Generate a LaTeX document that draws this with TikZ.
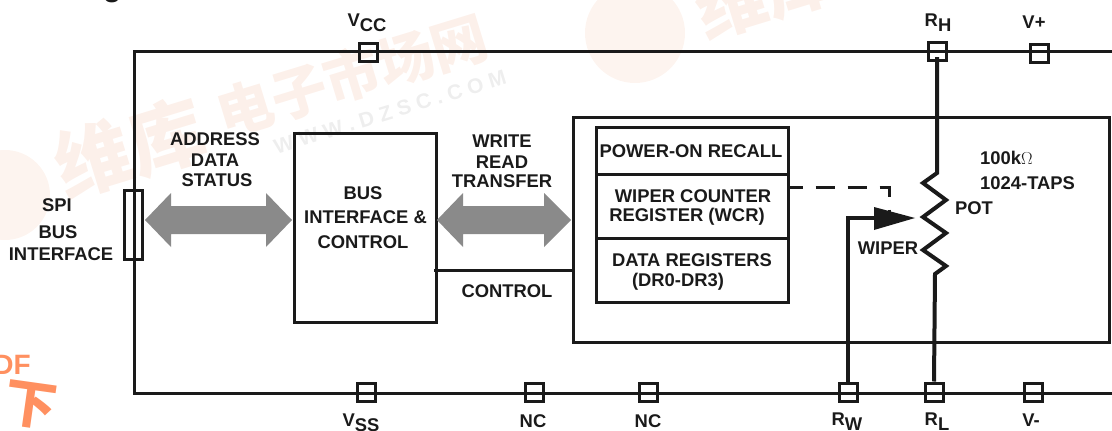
\documentclass[tikz,border=0pt]{standalone}
\usepackage{fontspec}
\setmainfont{Liberation Sans}
\newfontfamily\cjk{Noto Sans CJK SC}
\definecolor{ink}{HTML}{1A1A1A}
\definecolor{arrowgray}{HTML}{8A8A8A}
\definecolor{wmpink}{HTML}{FCF0EA}
\definecolor{wmpale}{HTML}{FDF4EF}
\definecolor{wmgray}{HTML}{EEEEEE}
\definecolor{logoorange}{HTML}{FF9060}
\newcommand{\dropsub}[1]{\raisebox{-5pt}{#1}}
\tikzset{
  lab/.style={font=\fontsize{18.4}{20}\selectfont\bfseries, text=ink, inner sep=0pt, align=center},
  wire/.style={draw=ink, line width=3pt},
  thin box/.style={draw=ink, line width=3pt, fill=none, inner sep=0pt},
  pin/.style={draw=ink, line width=3pt, fill=none, minimum width=18pt, minimum height=18pt, inner sep=0pt},
  pot/.style={draw=ink, line width=4pt, line join=miter},
  bus/.style={fill=arrowgray, draw=none},
  wm/.style={text=wmpink, font=\cjk\fontsize{56}{56}\selectfont\bfseries, rotate=17, inner sep=0pt},
}
\begin{document}
\begin{tikzpicture}[x=1pt,y=-1pt]
\useasboundingbox (0,0) rectangle (1112,431);
% watermarks
\node[wm, font=\cjk\fontsize{76}{76}\selectfont\bfseries] (w1) at (130,148) {维库};
\node[wm] (w2) at (352,75) {电子市场网};
\node[circle, fill=wmpale, minimum size=100pt, inner sep=0pt] (w0) at (635,33) {};
\node[wm, font=\cjk\fontsize{70}{70}\selectfont\bfseries] (w3) at (765,-8) {维库};
\node[circle, fill=wmpale, minimum size=90pt, inner sep=0pt] (w7) at (5,195) {};
\node[text=wmgray, font=\fontsize{21}{22}\selectfont\bfseries, rotate=17, inner sep=0pt] (w4) at (390,112) {W W W . D Z S C . C O M};
\node[text=logoorange, font=\fontsize{28}{28}\selectfont\bfseries, inner sep=0pt, anchor=east] (w5) at (31,365) {DF};
\node[text=logoorange, font=\cjk\fontsize{52}{52}\selectfont\bfseries, inner sep=0pt, rotate=-8] (w6) at (31,405) {下};
\node[lab, anchor=west, font=\fontsize{30}{30}\selectfont\bfseries] (title) at (103,-8) {g};
% outer rail
\coordinate (tr) at (1112,51);
\coordinate (br) at (1112,393);
\draw[wire] (tr) -- (134,51) -- (134,393) -- (br);
% pins
\node[pin] (vcc) at (368,52) {};
\node[pin] (rh) at (937,51) {};
\node[pin] (vp) at (1039,53) {};
\node[pin] (vss) at (366,392) {};
\node[pin] (nc1) at (534,392) {};
\node[pin] (nc2) at (648,392) {};
\node[pin] (rw) at (848,392) {};
\node[pin] (rl) at (934,392) {};
\node[pin] (vm) at (1033,392) {};
\node[thin box, minimum width=18pt, minimum height=69pt] (spi) at (133.5,225) {};
% boxes
\node[thin box, minimum width=142pt, minimum height=189pt] (bus) at (365.5,227.5) {};
\node[thin box, minimum width=536pt, minimum height=225pt] (pbox) at (841,229.5) {};
\node[thin box, minimum width=192pt, minimum height=47pt] (r1) at (692,150.5) {};
\node[thin box, minimum width=192pt, minimum height=64pt] (r2) at (692,206) {};
\node[thin box, minimum width=192pt, minimum height=64pt] (r3) at (692,270) {};
% bus arrows
\fill[bus] (145,220) -- (171,193) -- (171,206) -- (266,206) -- (266,193) -- (292,220) -- (266,247) -- (266,234) -- (171,234) -- (171,247) -- cycle;
\fill[bus] (437,220) -- (463,193) -- (463,206) -- (544,206) -- (544,193) -- (571,220) -- (544,247) -- (544,234) -- (463,234) -- (463,247) -- cycle;
% control
\draw[wire] (434,270) -- (pbox.west |- 434,270);
% potentiometer
\coordinate (zt) at (937,173);
\coordinate (zb) at (935,274);
\draw[pot] (rh.center) ++(0,6) -- (zt) -- (923,183) -- (946,200) -- (923,217) -- (946,233) -- (923,250) -- (946,266) -- (zb) -- (rl.north);
% wiper
\coordinate (wc) at (848,218);
\coordinate (wtip) at (915,218);
\draw[pot] (rw.north) -- (wc) -- (876,218);
\fill[ink] (wtip) -- (874,207) -- (874,230) -- cycle;
% dashed
\coordinate (dc) at (889.5,187.5);
\draw[draw=ink, line width=3pt, dash pattern=on 19pt off 13pt, dash phase=6pt] (r2.east |- dc) -- (dc) -- (889.5,213);
% labels
\node[lab] (lvcc) at (367,23) {V\dropsub{CC}};
\node[lab] (lrh) at (938,23) {R\dropsub{H}};
\node[lab] (lvp) at (1034,22) {V+};
\node[lab] (lvss) at (361,423) {V\dropsub{SS}};
\node[lab] (lnc1) at (533,421) {NC};
\node[lab] (lnc2) at (648,421) {NC};
\node[lab] (lrw) at (847,422) {R\dropsub{W}};
\node[lab] (lrl) at (937,422) {R\dropsub{L}};
\node[lab] (lvm) at (1031,420) {V-};
\node[lab] (lspi) at (57,205) {SPI};
\node[lab] (lbi1) at (58,232) {BUS};
\node[lab] (lbi2) at (61,254) {INTERFACE};
\node[lab] (la1) at (215,139) {ADDRESS};
\node[lab] (la2) at (215,160) {DATA};
\node[lab] (la3) at (217,180) {STATUS};
\node[lab] (lb1) at (363,193) {BUS};
\node[lab] (lb2) at (365.5,217) {INTERFACE \&};
\node[lab] (lb3) at (363,242) {CONTROL};
\node[lab] (lw1) at (502,141) {WRITE};
\node[lab] (lw2) at (502,162) {READ};
\node[lab] (lw3) at (502,181) {TRANSFER};
\node[lab] (lctl) at (507,291) {CONTROL};
\node[lab] (lp) at (691,151) {POWER-ON RECALL};
\node[lab] (lc1) at (693,196) {WIPER COUNTER};
\node[lab] (lc2) at (687,217) {REGISTER (WCR)};
\node[lab] (ld1) at (692,260) {DATA REGISTERS};
\node[lab] (ld2) at (678,282) {(DR0-DR3)};
\node[lab, anchor=west] (lk) at (980,158) {100k$\Omega$};
\node[lab, anchor=west] (lt) at (980,183) {1024-TAPS};
\node[lab] (lpot) at (974,208) {POT};
\node[lab] (lwip) at (888,248) {WIPER};
\end{tikzpicture}
\end{document}
